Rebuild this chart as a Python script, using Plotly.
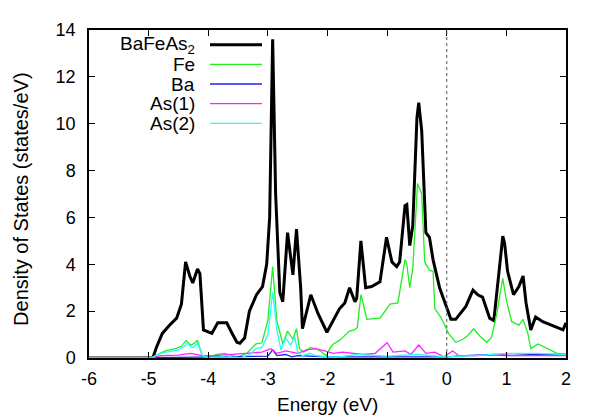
import plotly.graph_objects as go

# ---- data ----
total_E = [-6.0, -4.98, -4.93, -4.87, -4.77, -4.65, -4.53, -4.45, -4.38, -4.31, -4.26, -4.18, -4.14,
           -4.08, -3.94, -3.84, -3.69, -3.61, -3.52, -3.47, -3.39, -3.31, -3.19, -3.09, -3.02, -2.97,
           -2.92, -2.87, -2.80, -2.75, -2.67, -2.58, -2.52, -2.45, -2.42, -2.28, -2.16, -2.01, -1.91,
           -1.80, -1.71, -1.63, -1.54, -1.51, -1.44, -1.36, -1.26, -1.12, -1.01, -0.92, -0.84, -0.79,
           -0.70, -0.67, -0.62, -0.57, -0.50, -0.47, -0.42, -0.35, -0.29, -0.23, -0.12, -0.03, 0.07,
           0.15, 0.32, 0.44, 0.52, 0.60, 0.72, 0.79, 0.87, 0.94, 0.97, 1.02, 1.12, 1.21, 1.28, 1.33,
           1.41, 1.49, 1.61, 1.76, 1.88, 1.95, 2.0]
total_dos = [0.0, 0.0, 0.0, 0.45, 1.05, 1.4, 1.7, 2.3, 4.1, 3.5, 3.2, 3.8, 3.6,
             1.2, 1.05, 1.5, 1.5, 1.1, 0.67, 0.63, 0.85, 2.0, 2.7, 3.05, 4.0, 6.0,
             13.6, 7.0, 2.8, 2.4, 5.35, 3.55, 5.5, 3.0, 1.25, 2.7, 1.9, 1.1, 1.6,
             2.1, 2.35, 3.0, 2.4, 2.55, 5.0, 3.0, 3.05, 3.25, 5.15, 4.1, 3.9, 4.1,
             6.5, 6.55, 4.8, 5.65, 10.25, 10.9, 9.7, 5.35, 5.15, 4.2, 3.0, 2.4, 1.65,
             1.65, 2.2, 2.9, 2.7, 2.6, 1.7, 1.6, 3.6, 5.2, 4.9, 3.7, 2.7, 3.05, 3.5, 2.35,
             1.2, 1.75, 1.55, 1.4, 1.3, 1.2, 1.5]

fe_E = [-6.0, -4.97, -4.85, -4.72, -4.55, -4.45, -4.37, -4.30, -4.25, -4.18, -4.10, -4.00, -3.85,
        -3.72, -3.60, -3.50, -3.35, -3.20, -3.10, -3.00, -2.92, -2.85, -2.75, -2.67, -2.58, -2.52,
        -2.47, -2.40, -2.28, -2.15, -2.02, -1.95, -1.90, -1.80, -1.63, -1.55, -1.50, -1.44, -1.41,
        -1.34, -1.12, -0.95, -0.82, -0.70, -0.67, -0.62, -0.57, -0.49, -0.42, -0.37, -0.29, -0.23,
        -0.20, -0.10, 0.03, 0.15, 0.27, 0.35, 0.45, 0.55, 0.67, 0.75, 0.84, 0.94, 1.00, 1.09, 1.21,
        1.28, 1.36, 1.41, 1.53, 1.68, 1.85, 2.0]
fe_dos = [0.0, 0.0, 0.15, 0.3, 0.4, 0.5, 0.75, 0.55, 0.6, 0.75, 0.1, 0.05, 0.15,
          0.2, 0.1, 0.05, 0.2, 0.6, 0.65, 1.6, 3.9, 1.6, 0.6, 1.15, 0.8, 1.25,
          0.4, 0.25, 0.45, 0.35, 0.1, 0.45, 0.6, 0.75, 1.15, 1.2, 1.3, 2.7, 2.4,
          1.65, 1.7, 2.3, 2.35, 4.2, 4.0, 3.0, 3.8, 7.45, 7.0, 4.1, 3.75, 3.7,
          2.1, 1.75, 1.05, 0.67, 0.8, 0.95, 1.25, 0.95, 0.67, 0.88, 1.9, 3.4, 2.45, 1.55, 1.4,
          1.65, 1.05, 0.4, 0.6, 0.4, 0.2, 0.15]

ba_E = [-6.0, -4.95, -4.5, -3.0, -2.92, -2.85, -2.7, -2.6, -2.5, -2.0, -1.0, -0.5, 0.0, 0.3,
        0.8, 1.0, 1.5, 2.0]
ba_dos = [0.0, 0.0, 0.03, 0.08, 0.35, 0.1, 0.15, 0.05, 0.1, 0.05, 0.05, 0.08, 0.05, 0.1,
          0.15, 0.1, 0.15, 0.15]

as1_E = [-6.0, -4.95, -4.8, -4.5, -4.3, -4.1, -3.9, -3.6, -3.3, -3.1, -2.95, -2.85, -2.7, -2.5,
         -2.35, -2.2, -2.05, -1.9, -1.75, -1.6, -1.4, -1.2, -1.0, -0.9, -0.7, -0.6, -0.47, -0.35,
         -0.2, -0.05, 0.1, 0.2, 0.5, 0.9, 1.1, 1.5, 2.0]
as1_dos = [0.0, 0.0, 0.1, 0.12, 0.2, 0.1, 0.1, 0.15, 0.2, 0.25, 0.4, 0.2, 0.3, 0.2,
           0.35, 0.4, 0.3, 0.2, 0.25, 0.2, 0.15, 0.2, 0.65, 0.25, 0.3, 0.15, 0.55, 0.2,
           0.25, 0.05, 0.3, 0.1, 0.1, 0.15, 0.1, 0.1, 0.1]

as2_E = [-6.0, -4.95, -4.85, -4.7, -4.5, -4.4, -4.35, -4.3, -4.25, -4.18, -4.1, -4.0, -3.8, -3.7,
         -3.6, -3.45, -3.3, -3.2, -3.1, -3.0, -2.92, -2.85, -2.78, -2.7, -2.62, -2.55, -2.5, -2.42,
         -2.3, -2.2, -2.0, -1.8, -1.5, -1.0, -0.5, 0.0, 0.5, 1.0, 1.5, 2.0]
as2_dos = [0.0, 0.0, 0.15, 0.25, 0.35, 0.5, 0.65, 0.5, 0.45, 0.65, 0.1, 0.03, 0.05, 0.1,
           0.05, 0.02, 0.15, 0.4, 0.45, 1.0, 2.8, 1.2, 0.35, 0.85, 0.55, 0.9, 0.25, 0.1,
           0.2, 0.1, 0.05, 0.05, 0.15, 0.08, 0.15, 0.05, 0.1, 0.2, 0.2, 0.15]

x_ticks = [-6, -5, -4, -3, -2, -1, 0, 1, 2]
y_ticks = [0, 2, 4, 6, 8, 10, 12, 14]

series = [
    ("BaFeAs<sub>2</sub>", total_E, total_dos, "#000000", 3),
    ("Fe", fe_E, fe_dos, "#22ee22", 1.3),
    ("Ba", ba_E, ba_dos, "#2222ee", 1.3),
    ("As(1)", as1_E, as1_dos, "#ff22ff", 1.3),
    ("As(2)", as2_E, as2_dos, "#22ffff", 1.3),
]

FONT = "Liberation Sans, Arial, sans-serif"
fig = go.Figure()
for name, xs, ys, col, w in series:
    fig.add_trace(go.Scatter(x=xs, y=ys, mode="lines", name=name,
                             line=dict(color=col, width=w), showlegend=False))

# page offset of the figure div (default body margin)
OFF = 8
# plot-area geometry in page pixels
L, R, T, B = 89, 566, 24, 358
W, H = R - L, B - T
FIG_W, FIG_H = 598 - OFF, 419 - OFF


def px(xp):
    return (xp - L) / W


def py(yp):
    return (B - yp) / H


legend_rows = [39, 59, 79, 99, 119]
shapes = []
annotations = []
for (name, xs, ys, col, w), ry in zip(series, legend_rows):
    annotations.append(dict(x=px(197), y=py(ry), xref="paper", yref="paper", text=name,
                            showarrow=False, xanchor="right", yanchor="middle",
                            font=dict(family=FONT, size=19, color="#000000")))
    shapes.append(dict(type="line", xref="paper", yref="paper", x0=px(210), x1=px(262),
                       y0=py(ry), y1=py(ry), line=dict(color=col, width=w)))

# axis titles
annotations.append(dict(x=px(327), y=py(405), xref="paper", yref="paper", text="Energy (eV)",
                        showarrow=False, xanchor="center", yanchor="middle",
                        font=dict(family=FONT, size=19, color="#000000")))
annotations.append(dict(x=px(21), y=py(197), xref="paper", yref="paper",
                        text="Density of States (states/eV)", textangle=-90,
                        showarrow=False, xanchor="center", yanchor="middle",
                        font=dict(family=FONT, size=20, color="#000000")))

shapes.append(dict(type="line", xref="x", yref="paper", x0=0, x1=0, y0=0, y1=1,
                   line=dict(color="#555555", width=1, dash="dot")))

fig.update_layout(
    width=FIG_W, height=FIG_H,
    margin=dict(l=L - OFF, r=FIG_W - (R - OFF), t=T - OFF, b=FIG_H - (B - OFF)),
    paper_bgcolor="white", plot_bgcolor="white",
    font=dict(family=FONT, size=18, color="#000000"),
    shapes=shapes, annotations=annotations,
    xaxis=dict(range=[-6, 2], tickvals=x_ticks, ticktext=[str(v) for v in x_ticks],
               ticks="inside", ticklen=6, tickwidth=1, tickcolor="black",
               showline=True, linecolor="black", linewidth=1.5, mirror="ticks",
               showgrid=False, zeroline=False, ticklabelstandoff=4,
               tickfont=dict(family=FONT, size=18)),
    yaxis=dict(range=[0, 14], tickvals=y_ticks, ticktext=[str(v) for v in y_ticks],
               ticks="inside", ticklen=6, tickwidth=1, tickcolor="black",
               showline=True, linecolor="black", linewidth=1.5, mirror="ticks",
               showgrid=False, zeroline=False, ticklabelstandoff=8,
               tickfont=dict(family=FONT, size=18)),
)

fig.write_html("out.html")
